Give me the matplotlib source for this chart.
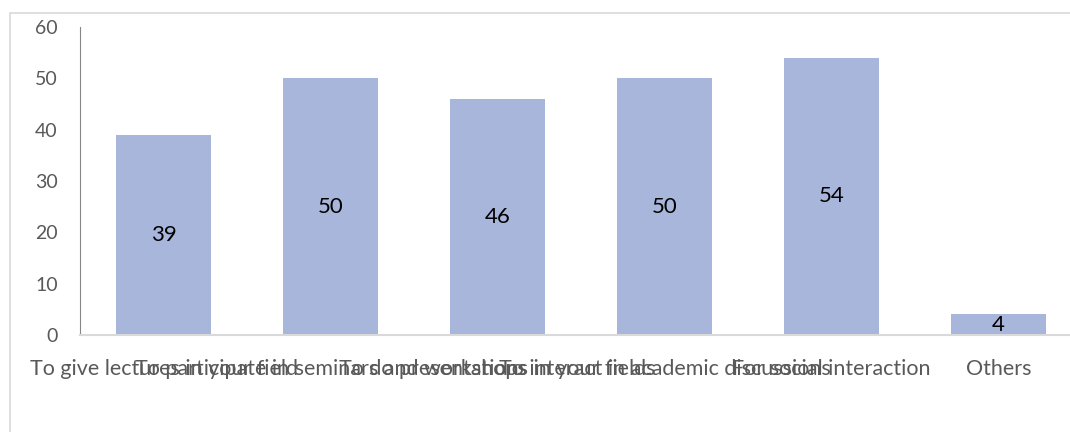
#! /usr/bin/env python3
import matplotlib.pyplot as plt
from matplotlib.patches import Rectangle

reasons = [
    "To give lectures in your field",
    "To participate in seminars and workshops",
    "To do presentations in your fields",
    "To interact in academic discussions",
    "For social interaction",
    "Others",
]
counts = [39, 50, 46, 50, 54, 4]
yticks = [0, 10, 20, 30, 40, 50, 60]

plt.rcParams['font.family'] = ['Lato', 'DejaVu Sans']

fig = plt.figure(figsize=(10.7, 4.32), dpi=100)
# chart frame, clipped on the right and bottom like the exported chart area
fig.patches.append(Rectangle((10 / 1070, -0.1), 1.2, 1.1 - 13 / 432,
                             transform=fig.transFigure, fill=False,
                             edgecolor='#d9d9d9', linewidth=1.2))

ax = fig.add_axes([80 / 1070, 1 - 335 / 432, 1002 / 1070, 308 / 432])
x = range(len(reasons))
bars = ax.bar(x, counts, width=0.565, color='#a9b6db')
for b, v in zip(bars, counts):
    ax.text(b.get_x() + b.get_width() / 2, v / 2, str(v),
            ha='center', va='center', fontsize=16, color='black')

ax.set_xlim(-0.5, len(reasons) - 0.5)
ax.set_ylim(0, 60)
ax.set_yticks(yticks)
ax.set_xticks(list(x))
ax.set_xticklabels(reasons)
ax.tick_params(axis='both', length=0, colors='#595959')
ax.tick_params(axis='x', pad=17, labelsize=15.5)
ax.tick_params(axis='y', pad=16, labelsize=14)
for s in ['top', 'right']:
    ax.spines[s].set_visible(False)
ax.spines['left'].set_color('#868686')
ax.spines['bottom'].set_color('#d9d9d9')
ax.spines['bottom'].set_linewidth(1.5)

plt.savefig('out.png', dpi=100)
